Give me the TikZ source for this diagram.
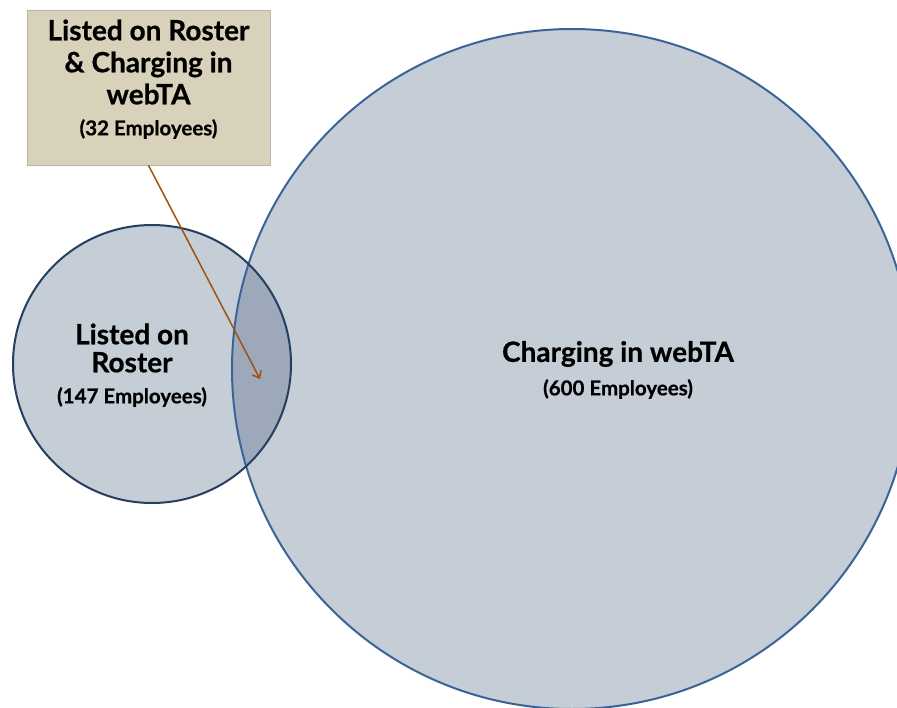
\documentclass[tikz,border=0pt]{standalone}
\usepackage{fontspec}
\setmainfont{Lato}[BoldFeatures={FakeBold=0.6}]
\usetikzlibrary{arrows.meta}
\definecolor{circfill}{HTML}{C5CDD7}
\definecolor{lensfill}{HTML}{9DA9BA}
\definecolor{bigline}{HTML}{3A6497}
\definecolor{smallline}{HTML}{243F60}
\definecolor{boxfill}{HTML}{D7D2B9}
\definecolor{boxline}{HTML}{B4B4B0}
\definecolor{arrowcol}{HTML}{A0520F}
\tikzset{
  title/.style={font=\fontsize{28}{28}\selectfont\bfseries, align=center, inner sep=0pt},
  boxtitle/.style={font=\fontsize{28}{32}\selectfont\bfseries, align=center, inner sep=0pt},
  count/.style={font=\fontsize{20.5}{19}\selectfont\bfseries, inner sep=0pt},
}
\begin{document}
\begin{tikzpicture}[x=1pt,y=-1pt]
\useasboundingbox (0,0) rectangle (897,707);
\begin{scope}
\clip (0,0) rectangle (897,707);
% fills
\fill[circfill] (572,369) circle (340);
\fill[circfill] (152,364) circle (139);
\begin{scope}
\clip (572,369) circle (340);
\fill[lensfill] (152,364) circle (139);
\end{scope}
% outlines as named nodes
\node[circle, draw=bigline, line width=2pt, minimum size=680pt, inner sep=0pt] (big) at (572,369) {};
\node[circle, draw=smallline, line width=2pt, minimum size=278pt, inner sep=0pt] (small) at (152,364) {};
\end{scope}
% labels
\node[title] (bigtxt) at (618,354) {Charging in webTA};
\node[count] (bigcnt) at (618,389) {(600 Employees)};
\node[title] (smalltxt) at (132,348) {Listed on\\Roster};
\node[count] (smallcnt) at (132,397) {(147 Employees)};
% callout box
\node[draw=boxline, fill=boxfill, line width=0.8pt, minimum width=243pt, minimum height=155pt, inner sep=0pt] (box) at (148.5,87.5) {};
\node[boxtitle] (boxtxt) at (148.5,62) {Listed on Roster\\\& Charging in\\webTA};
\node[count] (boxcnt) at (148.5,129) {(32 Employees)};
\coordinate (lens) at (260,379);
\draw[arrowcol, line width=1.5pt, -{Straight Barb[length=6pt,width=10pt]}] (box.south) -- (lens);
\end{tikzpicture}
\end{document}
